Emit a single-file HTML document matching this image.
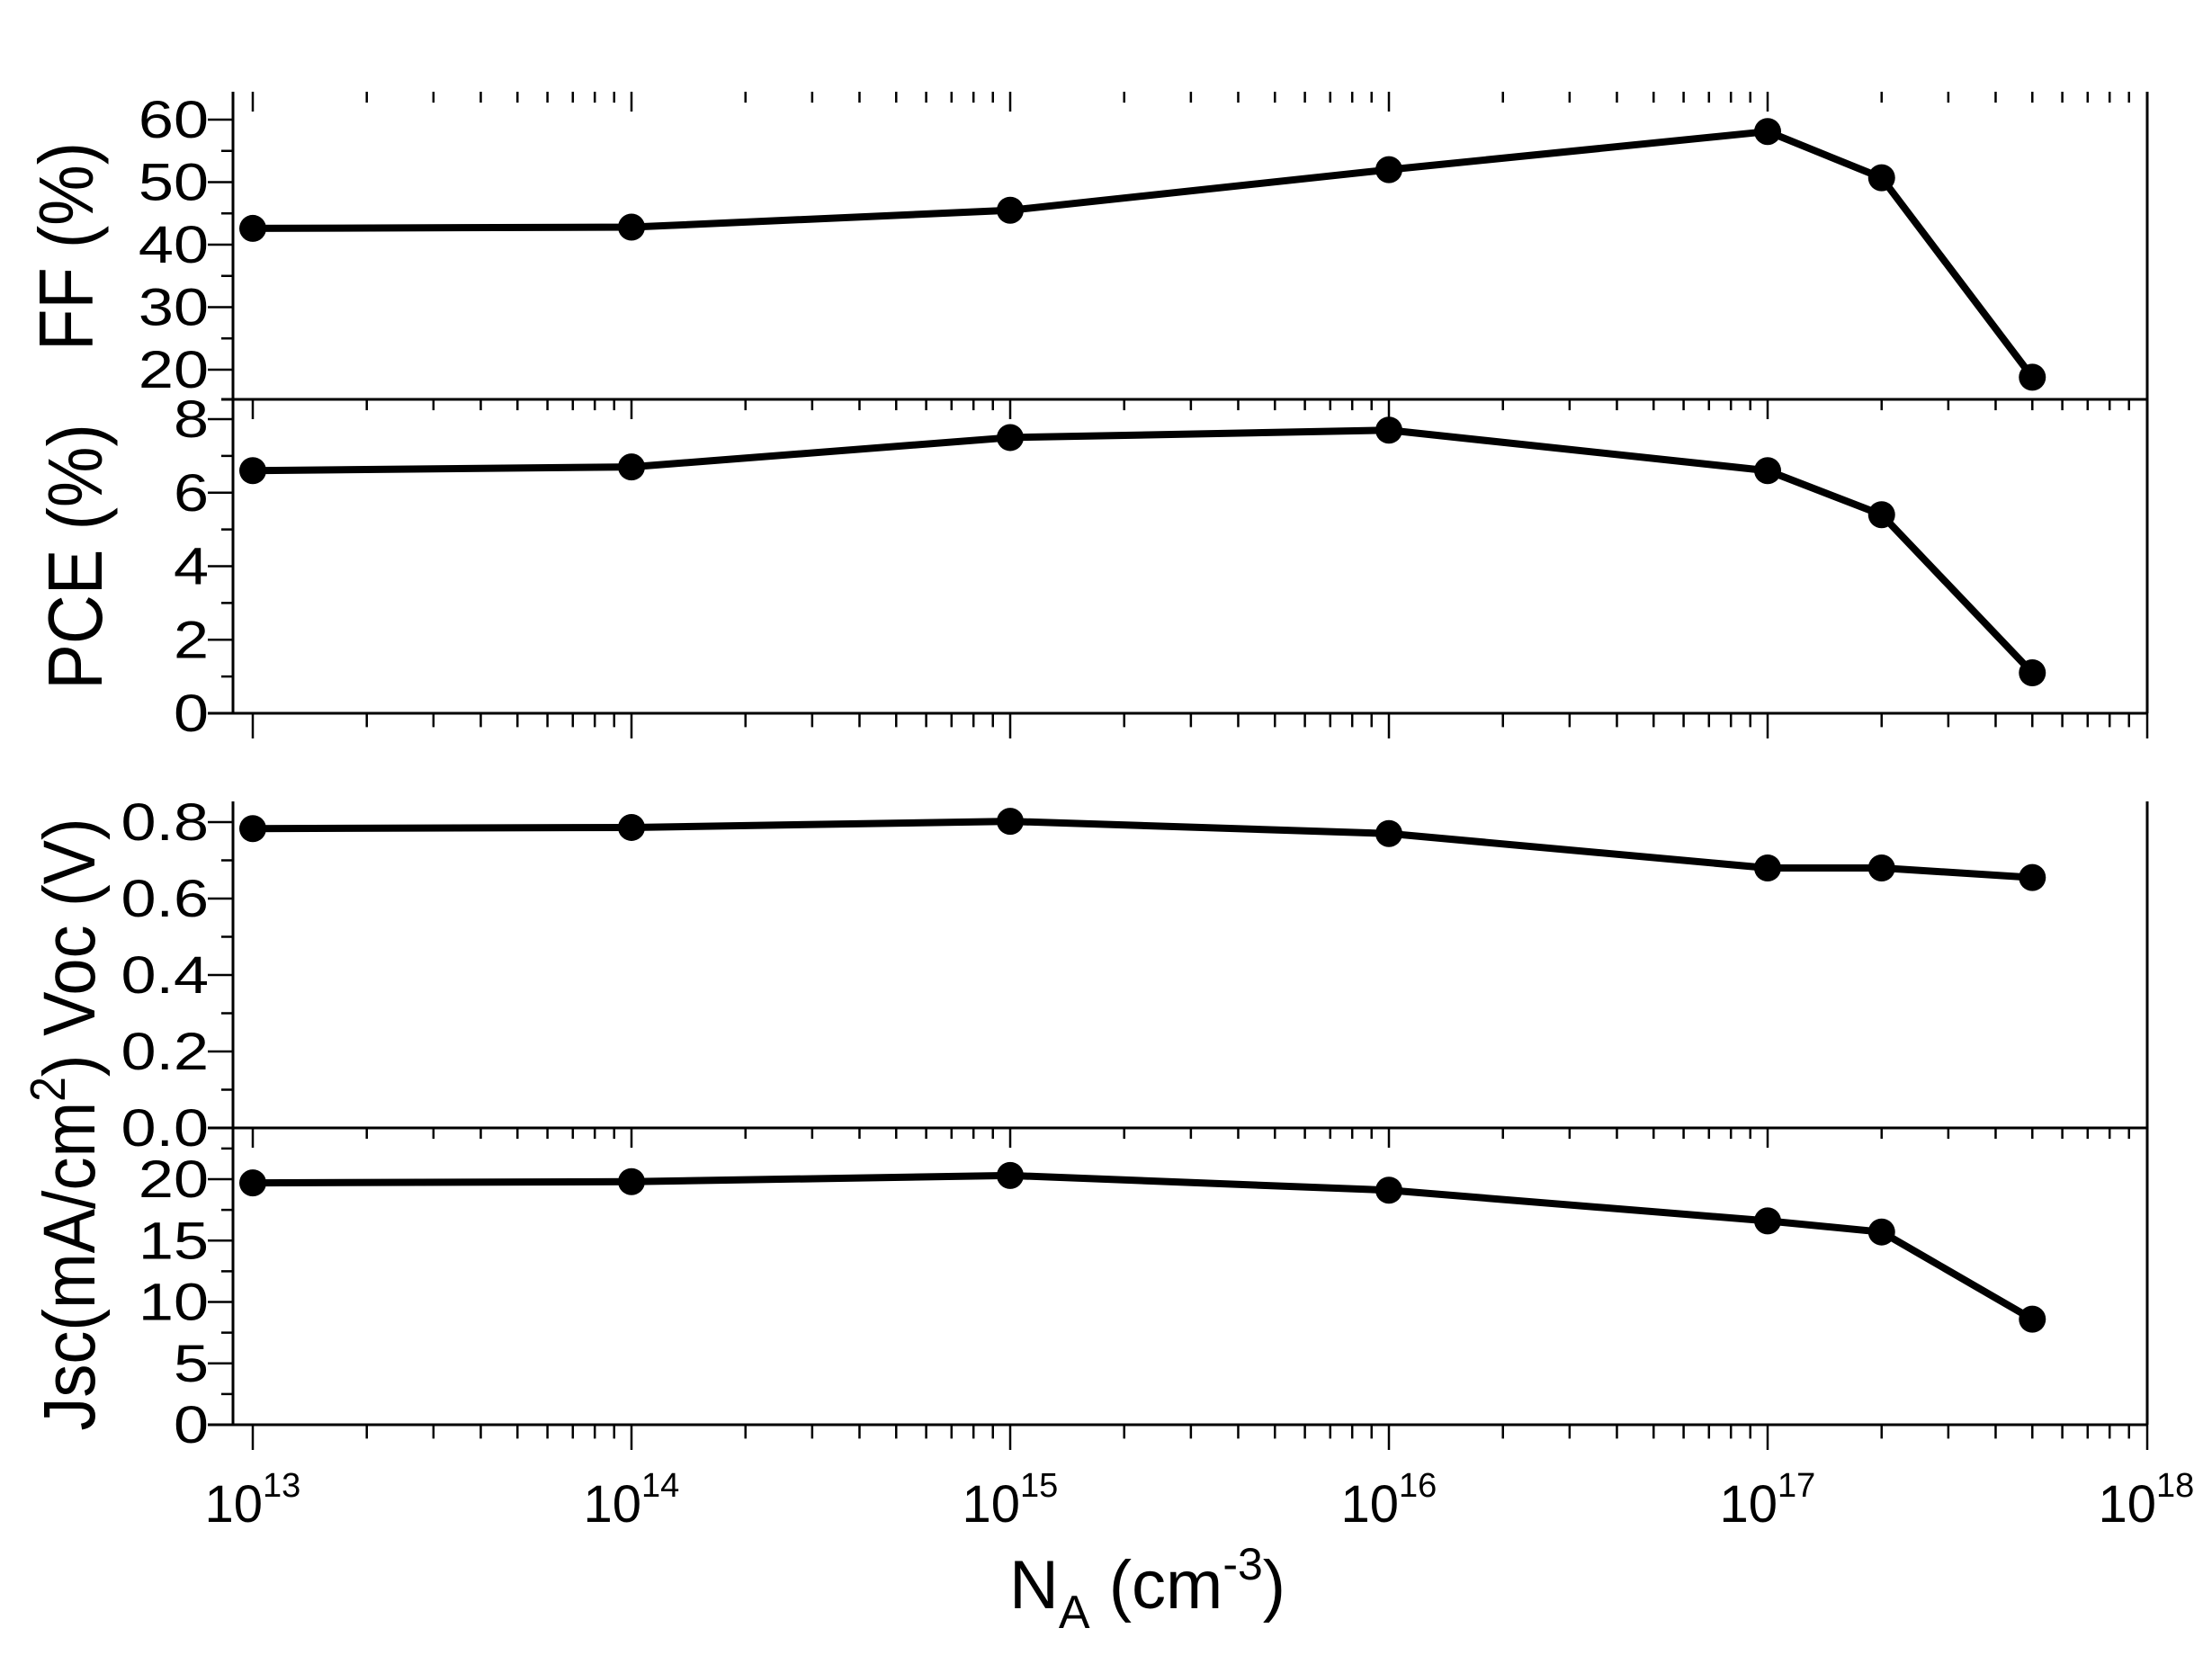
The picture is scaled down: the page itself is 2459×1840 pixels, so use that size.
<!DOCTYPE html>
<html><head><meta charset="utf-8"><style>html,body{margin:0;padding:0;background:#fff}svg{display:block}</style></head>
<body>
<svg id="s" width="2459" height="1840" xmlns="http://www.w3.org/2000/svg" font-family="Liberation Sans, sans-serif"></svg>
<script>
var X0=281,D=421,XL=259,XR=2387;
function xp(v){return X0+(Math.log10(v)-13)*D;}
var o='';
function L(x1,y1,x2,y2,w){o+='<line x1="'+x1+'" y1="'+y1+'" x2="'+x2+'" y2="'+y2+'" stroke="#000" stroke-width="'+(w||3)+'"/>';}
function T(x,y,s,size,anchor,extra){o+='<text x="'+x+'" y="'+y+'" font-size="'+size+'" text-anchor="'+(anchor||'end')+'" '+(extra||'')+'>'+s+'</text>';}
function TS(x,y,s,size,sx,sy){o+='<text transform="translate('+x+','+y+') scale('+sx+','+sy+')" font-size="'+size+'" text-anchor="end">'+s+'</text>';}
var xs=[1e13,1e14,1e15,1e16,1e17,2e17,5e17];
function xticks(y,len){
  for(var d=13;d<18;d++){for(var m=1;m<10;m++){var x=X0+(d-13+Math.log10(m))*D;L(x,y,x,y+(m==1?len:len*0.55),2.5);}}
  L(XR,y,XR,y+len,2.5);
}
function panel(p){
  var f=function(v){return p.y0+(v-p.v0)*(p.y1-p.y0)/(p.v1-p.v0);};
  for(var v=p.v0;v<=p.vt+1e-9;v+=p.minor){
    var y=f(v);var isMaj=Math.abs(Math.round(v/p.major)*p.major-v)<1e-6;
    L(XL-(isMaj?28:13),y,XL,y,2.5);
    if(isMaj) TS(232,y+20,p.fmt(v),54,1.3,1.08);
  }
  var pts=xs.map(function(x,i){return xp(x)+','+f(p.d[i]);}).join(' ');
  o+='<polyline points="'+pts+'" fill="none" stroke="#000" stroke-width="8" stroke-linejoin="round"/>';
  xs.forEach(function(x,i){o+='<circle cx="'+xp(x)+'" cy="'+f(p.d[i])+'" r="15" fill="#000"/>';});
}
L(XL,102,XL,793);L(XR,102,XR,793);
L(XL,891,XL,1584);L(XR,891,XR,1584);
L(246,444,XR,444);L(231,793,XR,793);
L(231,1254,XR,1254);L(231,1584,XR,1584);
xticks(102,22);xticks(444,22);xticks(793,28);xticks(1254,22);xticks(1584,28);
panel({v0:20,v1:60,y0:411,y1:133,vt:62,major:10,minor:5,fmt:function(v){return v.toFixed(0)},d:[42.6,42.8,45.5,52,58.1,50.7,18.8]});
panel({v0:0,v1:8,y0:793,y1:466,vt:8,major:2,minor:1,fmt:function(v){return v.toFixed(0)},d:[6.6,6.7,7.5,7.7,6.6,5.4,1.1]});
panel({v0:0,v1:0.8,y0:1254,y1:914,vt:0.85,major:0.2,minor:0.1,fmt:function(v){return v.toFixed(1)},d:[0.783,0.786,0.802,0.77,0.68,0.68,0.655]});
panel({v0:0,v1:20,y0:1584,y1:1311,vt:22.5,major:5,minor:2.5,fmt:function(v){return v.toFixed(0)},d:[19.7,19.8,20.3,19.1,16.6,15.7,8.6]});
for(var d=13;d<=18;d++){var x=X0+(d-13)*D;
  T(x+11,1692,'10',58,'end');T(x+11,1664,String(d),38,'start');}
o+='<text x="1122" y="1788" font-size="76">N<tspan font-size="52" dy="22">A</tspan><tspan dy="-22"> (cm</tspan><tspan font-size="50" dy="-32">-3</tspan><tspan dy="32">)</tspan></text>';
o+='<text transform="translate(103,274) rotate(-90) scale(1,1.12)" font-size="76" text-anchor="middle">FF (%)</text>';
o+='<text transform="translate(113,619) rotate(-90) scale(1,1.12)" font-size="76" text-anchor="middle">PCE (%)</text>';
o+='<text transform="translate(105,1250) rotate(-90) scale(1,1.1)" font-size="74" text-anchor="middle">Jsc(mA/cm<tspan font-size="50" dy="-30">2</tspan><tspan dy="30">) Voc (V)</tspan></text>';
document.getElementById('s').innerHTML=o;
</script>
</body></html>
